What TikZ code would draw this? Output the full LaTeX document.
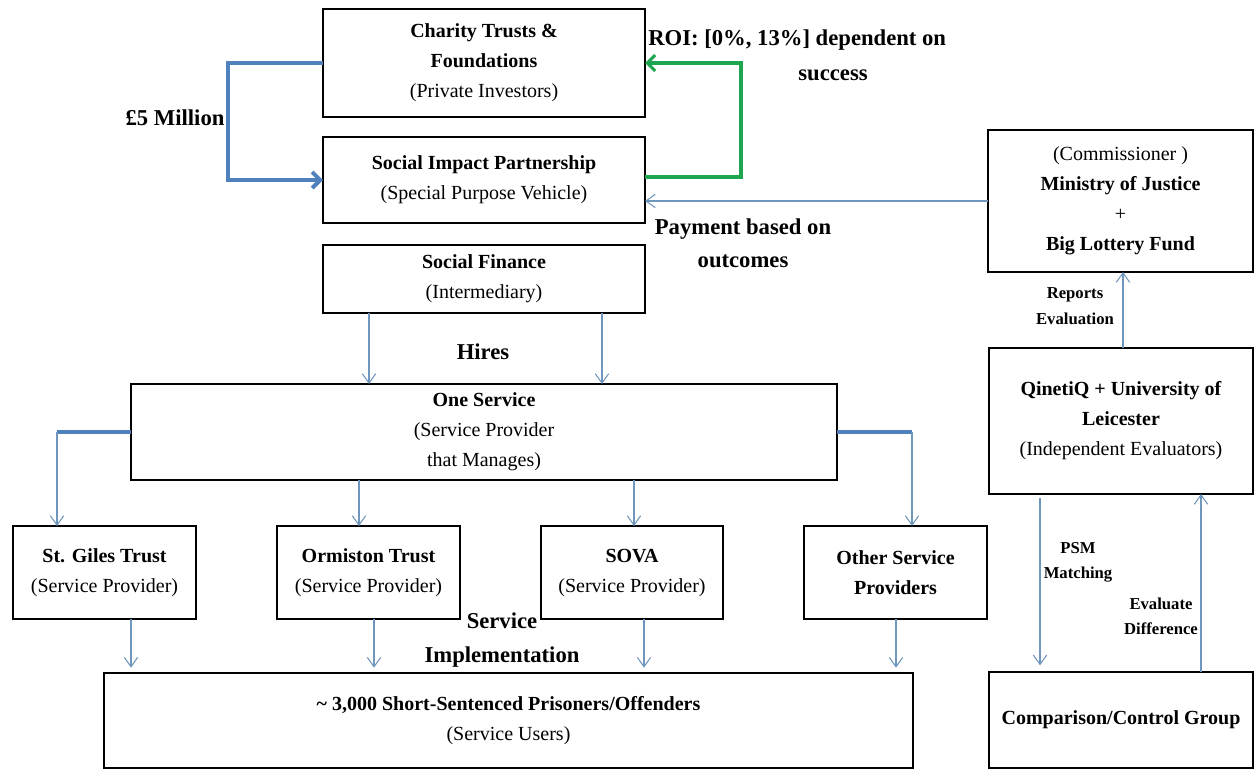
\documentclass[tikz,border=0pt]{standalone}
\usepackage{fontspec}
\setmainfont{Liberation Serif}
\usetikzlibrary{arrows.meta,calc}
\definecolor{thickblue}{RGB}{79,129,189}
\definecolor{thinblue}{RGB}{112,150,190}
\definecolor{roigreen}{RGB}{30,165,80}
\newcommand\mybox[6]{%
  \node[box, minimum width={(#4-#2)*0.75pt}, minimum height={(#5-#3)*0.75pt}]
    (#1) at ({(#2+#4)/2},{(#3+#5)/2}) {#6};}
\begin{document}
\begin{tikzpicture}[x=0.75pt,y=-0.75pt,
  box/.style={draw, line width=2.2pt, inner sep=0pt, outer sep=0pt, align=center,
    font=\fontsize{15}{22.5}\selectfont},
  biglabel/.style={inner sep=0pt, align=center, font=\fontsize{17}{24.75}\selectfont\bfseries},
  smalllabel/.style={inner sep=0pt, align=center, font=\fontsize{12.5}{19}\selectfont\bfseries},
  thinarrow/.style={draw=thinblue, line width=0.8pt, -{Straight Barb[length=7pt,width=10pt,line width=0.8pt]}},
  thickline/.style={draw=thickblue, line width=3pt},
  bluearrow/.style={draw=thickblue, line width=3pt, -{Straight Barb[length=6pt,width=12pt,line width=3pt]}},
  greenarrow/.style={draw=roigreen, line width=2.3pt, -{Straight Barb[length=6pt,width=12pt,line width=2.3pt]}}
]
\path[fill=white, use as bounding box] (0,0) rectangle (1255,772);

% boxes
\mybox{charity}{323}{9}{645}{117}{\textbf{Charity Trusts \&}\\\textbf{Foundations}\\(Private Investors)}
\mybox{sip}{323}{137}{645}{223}{\textbf{Social Impact Partnership}\\(Special Purpose Vehicle)}
\mybox{sf}{323}{245}{645}{313}{\textbf{Social Finance}\\(Intermediary)}
\mybox{os}{131}{384}{837}{480}{\textbf{One Service}\\(Service Provider\\that Manages)}
\mybox{sg}{13}{526}{196}{619}{\textbf{St. Giles Trust}\\(Service Provider)}
\mybox{orm}{277}{526}{460}{619}{\textbf{Ormiston Trust}\\(Service Provider)}
\mybox{sova}{541}{526}{723}{619}{\textbf{SOVA}\\(Service Provider)}
\mybox{other}{804}{526}{987}{619}{\textbf{Other Service}\\\textbf{Providers}}
\mybox{users}{104}{673}{913}{768}{\textbf{\textasciitilde\ 3,000 Short-Sentenced Prisoners/Offenders}\\(Service Users)}
\mybox{moj}{988}{130}{1253}{272}{(Commissioner )\\\textbf{Ministry of Justice}\\+\\\textbf{Big Lottery Fund}}
\mybox{qq}{989}{348}{1253}{494}{\textbf{QinetiQ + University of}\\\textbf{Leicester}\\(Independent Evaluators)}
\mybox{cmp}{989}{672}{1253}{768}{\textbf{Comparison/Control Group}}

% x positions of connectors
\coordinate (ca) at (369,0);
\coordinate (cb) at (602,0);
\coordinate (cg) at (57,0);
\coordinate (co) at (912,0);
\coordinate (cm) at (359,0);
\coordinate (cs) at (634,0);
\coordinate (d1) at (131,0);
\coordinate (d2) at (374,0);
\coordinate (d3) at (644,0);
\coordinate (d4) at (896,0);
\coordinate (cr) at (1123,0);
\coordinate (cp) at (1040,0);
\coordinate (ce) at (1201,0);

% investment and returns
\draw[bluearrow] (charity.west) -- ++(-95,0) |- (sip.west);
\draw[greenarrow] ($(sip.east)+(0,-3)$) -- ++(96,0) |- (charity.east);
\draw[thinarrow] (moj.west) -- (sip.east |- moj.west);

% hires
\draw[thinarrow] (sf.south -| ca) -- (os.north -| ca);
\draw[thinarrow] (sf.south -| cb) -- (os.north -| cb);

% one service to providers
\draw[thickline] (os.west) -- (os.west -| cg);
\draw[thinarrow] (os.west -| cg) -- (sg.north -| cg);
\draw[thickline] (os.east) -- (os.east -| co);
\draw[thinarrow] (os.east -| co) -- (other.north -| co);
\draw[thinarrow] (os.south -| cm) -- (orm.north -| cm);
\draw[thinarrow] (os.south -| cs) -- (sova.north -| cs);

% providers to users
\draw[thinarrow, shorten >=4pt] (sg.south -| d1) -- (users.north -| d1);
\draw[thinarrow, shorten >=4pt] (orm.south -| d2) -- (users.north -| d2);
\draw[thinarrow, shorten >=4pt] (sova.south -| d3) -- (users.north -| d3);
\draw[thinarrow, shorten >=4pt] (other.south -| d4) -- (users.north -| d4);

% evaluation
\draw[thinarrow] (qq.north -| cr) -- (moj.south -| cr);
\draw[thinarrow, shorten <=3pt, shorten >=5pt] (qq.south -| cp) -- (cmp.north -| cp);
\draw[thinarrow] (cmp.north -| ce) -- (qq.south -| ce);

% labels
\node[biglabel] (fivem) at (175,118) {£5 Million};
\node[biglabel, anchor=west] (roi) at (648,40) {ROI: [0\%, 13\%] dependent on};
\node[biglabel] (succ) at (833,75) {success};
\node[biglabel] (pay) at (743,243) {Payment based on\\outcomes};
\node[biglabel] (hires) at (483,352) {Hires};
\node[biglabel, font=\fontsize{17}{25.5}\selectfont\bfseries] (impl) at (502,640) {Service\\Implementation};
\node[smalllabel] (rep) at (1075,306) {Reports\\Evaluation};
\node[smalllabel] (psm) at (1078,562) {PSM\\Matching};
\node[smalllabel] (evd) at (1161,616) {Evaluate\\Difference};
\end{tikzpicture}
\end{document}
